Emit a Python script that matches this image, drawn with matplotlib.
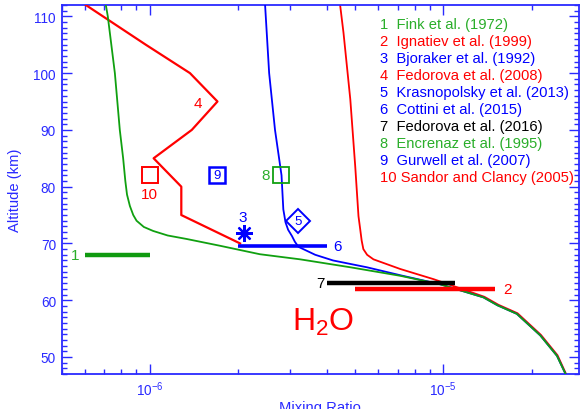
import matplotlib
matplotlib.use("Agg")
import matplotlib.pyplot as plt
from matplotlib.ticker import LogLocator, FixedLocator, MultipleLocator, NullFormatter

plt.rcParams['font.family'] = ['Liberation Sans', 'DejaVu Sans']
plt.rcParams['mathtext.fontset'] = 'custom'
plt.rcParams['mathtext.rm'] = 'Liberation Sans'
plt.rcParams['mathtext.it'] = 'Liberation Sans:italic'
plt.rcParams['mathtext.bf'] = 'Liberation Sans:bold'

# ---------------- data ----------------
# green model profile
green_alt = [112, 110, 100, 90, 85, 81, 78.6, 76.6, 75.0, 74.0, 72.9, 72.2, 71.4, 70.8, 69.6,
             68.1, 67.2, 65.8, 64.3, 62.8, 60.5, 59.1, 57.6, 53.8, 50.2, 47]
green_mr = [7.08e-7, 7.19e-7, 7.60e-7, 7.90e-7, 8.11e-7, 8.25e-7, 8.36e-7, 8.55e-7, 8.78e-7,
            9.01e-7, 9.54e-7, 1.026e-6, 1.15e-6, 1.33e-6, 1.73e-6, 2.37e-6, 3.25e-6,
            4.82e-6, 7.13e-6, 9.77e-6, 1.37e-5, 1.53e-5, 1.78e-5, 2.14e-5, 2.44e-5, 2.61e-5]

# blue model profile
blue_alt = [112, 100, 90, 82, 76, 73.7, 72.4, 71.3, 70.3, 69.4, 68.0, 67.0, 65.8, 64.4, 62.8,
            60.5, 59.1, 57.6, 53.8, 50.2, 47]
blue_mr = [2.47e-6, 2.55e-6, 2.67e-6, 2.81e-6, 2.85e-6, 2.90e-6, 2.96e-6, 3.05e-6, 3.12e-6,
           3.21e-6, 3.66e-6, 4.21e-6, 5.49e-6, 7.13e-6, 9.77e-6, 1.37e-5, 1.53e-5, 1.78e-5,
           2.14e-5, 2.44e-5, 2.61e-5]

# red model profile
red_alt = [112, 107.1, 95.4, 83.6, 74.8, 72.5, 70.5, 69.0, 68.0, 67.2, 65.5, 63.7, 62.3,
           60.6, 59.2, 57.7, 53.9, 50.3, 47]
red_mr = [4.45e-6, 4.57e-6, 4.82e-6, 5.01e-6, 5.14e-6, 5.21e-6, 5.27e-6, 5.34e-6, 5.50e-6,
          5.78e-6, 7.13e-6, 9.27e-6, 1.11e-5, 1.38e-5, 1.54e-5, 1.79e-5, 2.15e-5, 2.45e-5, 2.62e-5]

# 4 Fedorova et al. (2008) profile
fed08_alt = [112, 105, 100, 95, 90, 85, 80, 75, 70]
fed08_mr = [6.05e-7, 9.69e-7, 1.37e-6, 1.70e-6, 1.39e-6, 1.03e-6, 1.28e-6, 1.28e-6, 2.03e-6]

# horizontal range measurements: (alt, mr_min, mr_max)
fink_alt, fink_mr = 68.0, [6.0e-7, 1.0e-6]
ign_alt, ign_mr = 61.9, [5.0e-6, 1.5e-5]
cot_alt, cot_mr = 69.5, [2.0e-6, 4.0e-6]
fed16_alt, fed16_mr = 63.0, [4.0e-6, 1.1e-5]

# point measurements
bjo_alt, bjo_mr = 71.8, 2.09e-6
kra_alt, kra_mr = 74.0, 3.2e-6
enc_alt, enc_mr = 82.0, 2.8e-6
gur_alt, gur_mr = 82.0, 1.7e-6
san_alt, san_mr = 82.0, 1.0e-6

legend_labels = ["1  Fink et al. (1972)", "2  Ignatiev et al. (1999)", "3  Bjoraker et al. (1992)",
                 "4  Fedorova et al. (2008)", "5  Krasnopolsky et al. (2013)", "6  Cottini et al. (2015)",
                 "7  Fedorova et al. (2016)", "8  Encrenaz et al. (1995)", "9  Gurwell et al. (2007)",
                 "10 Sandor and Clancy (2005)"]

# ---------------- style ----------------
BLUE = '#0000ff'
RED = '#ff0000'
GREEN = '#10a010'
GREEN_T = '#2aae2a'
AXC = '#2a2aff'
legend_colors = [GREEN_T, RED, BLUE, RED, BLUE, BLUE, 'black', GREEN_T, BLUE, RED]

fig = plt.figure(figsize=(5.84, 4.10), dpi=100)
ax = fig.add_axes([61.5 / 584, 1 - 375 / 410, (579 - 61.5) / 584, (375 - 6) / 410])
ax.set_xscale('log')
ax.set_xlim(5e-7, 2.9e-5)
ax.set_ylim(47, 112)

# model curves
ax.plot(red_mr, red_alt, color=RED, lw=1.3, zorder=2)
ax.plot(blue_mr, blue_alt, color=BLUE, lw=1.3, zorder=3)
ax.plot(green_mr, green_alt, color=GREEN, lw=1.3, zorder=4)
ax.plot(fed08_mr, fed08_alt, color=RED, lw=1.6, zorder=3)

# horizontal bars
ax.plot(fink_mr, [fink_alt] * 2, color='#109a10', lw=3.2, solid_capstyle='butt', zorder=5)
ax.plot(ign_mr, [ign_alt] * 2, color=RED, lw=3.2, solid_capstyle='butt', zorder=5)
ax.plot(cot_mr, [cot_alt] * 2, color=BLUE, lw=2.6, solid_capstyle='butt', zorder=5)
ax.plot(fed16_mr, [fed16_alt] * 2, color='black', lw=3.2, solid_capstyle='butt', zorder=6)

# markers
ax.plot([bjo_mr], [bjo_alt], marker=(8, 2, 0), ms=12, mew=1.6, color=BLUE, zorder=6)
ax.plot([kra_mr], [kra_alt], marker='D', ms=12.5, mew=1.4, mfc='white', mec=BLUE, zorder=6)
ax.plot([enc_mr], [enc_alt], marker='s', ms=12, mew=1.3, mfc='none', mec=GREEN, zorder=6)
ax.plot([gur_mr], [gur_alt], marker='s', ms=11.5, mew=1.8, mfc='none', mec=BLUE, zorder=6)
ax.plot([san_mr], [san_alt], marker='s', ms=12, mew=1.4, mfc='none', mec=RED, zorder=6)

lfs = 11
ax.annotate('1', (fink_mr[0], fink_alt), xytext=(-4, 0), textcoords='offset points',
            ha='right', va='center', color=GREEN_T, fontsize=lfs)
ax.annotate('2', (ign_mr[1], ign_alt), xytext=(6, 0), textcoords='offset points',
            ha='left', va='center', color=RED, fontsize=lfs)
ax.annotate('6', (cot_mr[1], cot_alt), xytext=(4.5, 0), textcoords='offset points',
            ha='left', va='center', color=BLUE, fontsize=lfs)
ax.annotate('7', (fed16_mr[0], fed16_alt), xytext=(-1.5, 0), textcoords='offset points',
            ha='right', va='center', color='black', fontsize=lfs)
ax.annotate('8', (enc_mr, enc_alt), xytext=(-8, 0), textcoords='offset points',
            ha='right', va='center', color=GREEN_T, fontsize=lfs)
ax.annotate('3', (bjo_mr, bjo_alt), xytext=(-1, 12), textcoords='offset points',
            ha='center', va='center', color=BLUE, fontsize=lfs)
ax.annotate('10', (san_mr, san_alt), xytext=(0, -13.5), textcoords='offset points',
            ha='center', va='center', color=RED, fontsize=lfs)
ax.annotate('5', (kra_mr, kra_alt), ha='center', va='center', color=BLUE, fontsize=9.5, zorder=7)
ax.annotate('9', (gur_mr, gur_alt), ha='center', va='center', color=BLUE, fontsize=9.5, zorder=7)
ax.text(1.46e-6, 94.8, '4', ha='center', va='center', color=RED, fontsize=lfs)

ax.text(3.05e-6, 54.8, 'H$_2$O', color=RED, fontsize=23, ha='left', va='baseline')

# legend text
for i, (lab, c) in enumerate(zip(legend_labels, legend_colors)):
    ax.text(0.6155, 0.948 - i * 0.0461, lab, transform=ax.transAxes, color=c,
            fontsize=10.6, ha='left', va='center')

# axes styling
for s in ax.spines.values():
    s.set_color(AXC)
    s.set_linewidth(1.3)
ax.yaxis.set_minor_locator(MultipleLocator(1))
ax.set_yticks([50, 60, 70, 80, 90, 100, 110])
ax.xaxis.set_major_locator(FixedLocator([1e-6, 1e-5]))
ax.xaxis.set_minor_locator(LogLocator(base=10, subs=range(2, 10), numticks=20))
ax.xaxis.set_minor_formatter(NullFormatter())
ax.set_xticklabels(['10$^{-6}$', '10$^{-5}$'])
ax.tick_params(which='both', direction='in', top=True, right=True, colors=AXC,
               labelcolor=AXC, width=1.0)
ax.tick_params(which='major', length=7, labelsize=9.8)
ax.tick_params(which='minor', length=3.6)
ax.tick_params(axis='x', which='major', pad=4)
ax.tick_params(axis='y', which='major', pad=4)

ax.set_ylabel('Altitude (km)', color=AXC, fontsize=10.6, labelpad=8)
ax.set_xlabel('Mixing Ratio', color=AXC, fontsize=10.6, labelpad=1)

fig.savefig('out.png', dpi=100)
